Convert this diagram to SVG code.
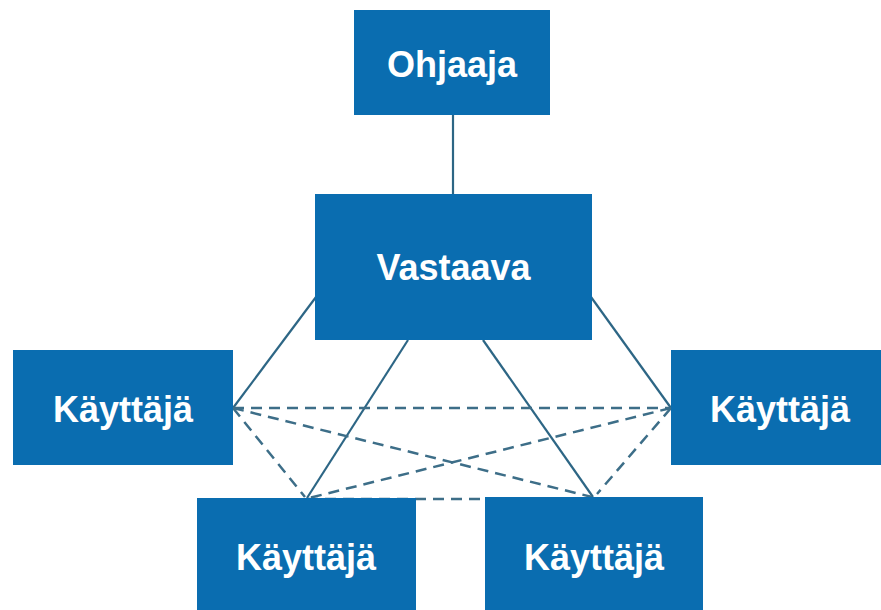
<svg xmlns="http://www.w3.org/2000/svg" width="881" height="610" viewBox="0 0 881 610">
<style>
.box{fill:#0a6db0;}
.lbl{font-family:"Liberation Sans",Arial,sans-serif;font-weight:bold;font-size:36px;fill:#ffffff;text-anchor:middle;}
.solid{stroke:#2d6685;stroke-width:2.2;fill:none;}
.dash{stroke:#3d6e88;stroke-width:2.5;fill:none;stroke-dasharray:11 7;}
</style>
<rect width="881" height="610" fill="#ffffff"/>
<g id="connectors">
<line class="solid" x1="453" y1="115" x2="453" y2="194"/>
<line class="solid" x1="316" y1="297" x2="233" y2="408"/>
<line class="solid" x1="591" y1="297" x2="671" y2="408"/>
<line class="solid" x1="408" y1="340" x2="307" y2="498"/>
<line class="solid" x1="483" y1="340" x2="593" y2="497"/>
<line class="dash" x1="233" y1="408" x2="671" y2="408"/>
<line class="dash" x1="233" y1="408" x2="592" y2="497"/>
<line class="dash" x1="233" y1="408" x2="305" y2="497"/>
<line class="dash" x1="671" y1="408" x2="309" y2="498"/>
<line class="dash" x1="671" y1="408" x2="597" y2="494"/>
<line class="dash" x1="307" y1="499" x2="592" y2="499"/>
</g>
<g id="ohjaaja">
<rect class="box" x="354" y="10" width="196" height="105"/>
<text class="lbl" x="452" y="77">Ohjaaja</text>
</g>
<g id="vastaava">
<rect class="box" x="315" y="194" width="277" height="146"/>
<text class="lbl" x="453.5" y="280">Vastaava</text>
</g>
<g id="kayttaja-left">
<rect class="box" x="13" y="350" width="220" height="115"/>
<text class="lbl" x="123" y="422">Käyttäjä</text>
</g>
<g id="kayttaja-right">
<rect class="box" x="671" y="350" width="220" height="115"/>
<text class="lbl" x="780" y="422">Käyttäjä</text>
</g>
<g id="kayttaja-bottom-left">
<rect class="box" x="197" y="498" width="219" height="120"/>
<text class="lbl" x="306" y="570">Käyttäjä</text>
</g>
<g id="kayttaja-bottom-right">
<rect class="box" x="485" y="497" width="218" height="120"/>
<text class="lbl" x="594" y="570">Käyttäjä</text>
</g>
</svg>
